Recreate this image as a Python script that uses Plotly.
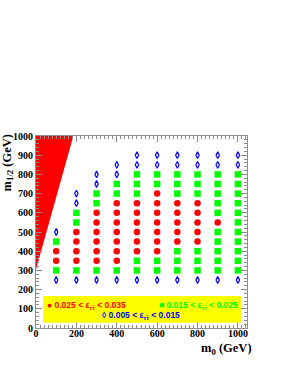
import plotly.graph_objects as go

# m0 columns (GeV) and m1/2 rows (GeV, top to bottom)
m0_values = [100, 200, 300, 400, 500, 600, 700, 800, 900, 1000]
m12_values = [900, 850, 800, 750, 700, 650, 600, 550, 500, 450, 400, 350, 300, 250]
# Efficiency class per (row, column): C = 0.025-0.035, S = 0.015-0.025, D = 0.005-0.015
efficiency_grid = [
    "....DDDDDD",
    "...DDDDDDD",
    "..DDSSSSSS",
    "..DSSSSSSS",
    ".DSSSCSSSS",
    ".DSCCCCCSS",
    ".SCCCCCCSS",
    ".SCCCCCCCS",
    "DCCCCCCCSS",
    "SCCCCCCCSS",
    "CCCCCCSSSS",
    "CCCCSSSSSS",
    "SSSSSSSSSS",
    "DDDDDDDDDD",
]
# excluded region vertices (m0, m1/2)
excluded_m0 = [0, 0, 185]
excluded_m12 = [305, 1000, 1000]

x_ticks = [0, 200, 400, 600, 800, 1000]
y_ticks = [0, 100, 200, 300, 400, 500, 600, 700, 800, 900, 1000]

pts = {"C": ([], []), "S": ([], []), "D": ([], [])}
for r, row in enumerate(efficiency_grid):
    for c, ch in enumerate(row):
        if ch in pts:
            pts[ch][0].append(m0_values[c])
            pts[ch][1].append(m12_values[r])

fig = go.Figure()
fig.add_trace(go.Scatter(x=excluded_m0, y=excluded_m12, fill="toself", fillcolor="#ff0000",
                         mode="lines", line=dict(width=0, color="#ff0000"), hoverinfo="skip"))
fig.add_trace(go.Scatter(x=pts["C"][0], y=pts["C"][1], mode="markers",
                         marker=dict(symbol="circle", size=6.5, color="#ff0000", line=dict(width=0))))
fig.add_trace(go.Scatter(x=pts["S"][0], y=pts["S"][1], mode="markers",
                         marker=dict(symbol="square", size=6.5, color="#00ff00", line=dict(width=0))))
fig.add_trace(go.Scatter(x=pts["D"][0], y=pts["D"][1], mode="markers",
                         marker=dict(symbol="diamond-tall-open", size=4.8, color="#0000ff",
                                     line=dict(width=1.2, color="#0000ff"))))

# legend box
fig.add_shape(type="rect", xref="x", yref="y", x0=35, x1=1015, y0=27, y1=167,
              fillcolor="#ffff00", line=dict(width=0), layer="above")

lfont = dict(family="Liberation Sans", size=8.5, weight="bold")
eps = "ε<sub>ττ̃</sub>"
fig.add_annotation(x=45, y=119, xref="x", yref="y", xanchor="left", yanchor="middle", showarrow=False,
                   text=f"● 0.025 &lt; {eps} &lt; 0.035", font=dict(lfont, color="#ff0000"))
fig.add_annotation(x=597, y=119, xref="x", yref="y", xanchor="left", yanchor="middle", showarrow=False,
                   text=f"■ 0.015 &lt; {eps} &lt; 0.025", font=dict(lfont, color="#00ff00"))
fig.add_annotation(x=318, y=67, xref="x", yref="y", xanchor="left", yanchor="middle", showarrow=False,
                   text=f"◊ 0.005 &lt; {eps} &lt; 0.015", font=dict(lfont, color="#0000ff"))

tfont = dict(family="Liberation Serif", size=10, weight="bold", color="black")
fig.add_annotation(x=-0.135, y=0.86, xref="paper", yref="paper", textangle=-90, showarrow=False,
                   xanchor="center", yanchor="middle", text="m<sub>1/2</sub> (GeV)",
                   font=dict(family="Liberation Serif", size=12.5, weight="bold", color="black"))
fig.add_annotation(x=1.035, y=-0.108, xref="paper", yref="paper", showarrow=False,
                   xanchor="right", yanchor="middle", text="m<sub>0</sub> (GeV)",
                   font=dict(family="Liberation Serif", size=12.5, weight="bold", color="black"))

axis_common = dict(showline=True, linecolor="#8c8c8c", linewidth=1, mirror="ticks",
                   ticks="inside", ticklen=6, tickcolor="#8c8c8c", tickwidth=1,
                   showgrid=False, zeroline=False, tickfont=tfont, automargin=False)
fig.update_xaxes(range=[0, 1045], tickvals=x_ticks, ticktext=[str(v) for v in x_ticks],
                 ticklabelstandoff=-4,
                 minor=dict(ticks="inside", dtick=20, ticklen=3, tickcolor="#8c8c8c", showgrid=False),
                 **axis_common)
fig.update_yaxes(range=[0, 1000], tickvals=y_ticks, ticktext=[str(v) for v in y_ticks],
                 minor=dict(ticks="inside", dtick=20, ticklen=3, tickcolor="#8c8c8c", showgrid=False),
                 **axis_common)

fig.update_layout(width=295, height=382, margin=dict(l=36, r=48, t=136, b=54),
                  plot_bgcolor="white", paper_bgcolor="white", showlegend=False)
fig.write_html("out.html", config={"displayModeBar": False},
               post_script="document.body.style.margin='0px';")
